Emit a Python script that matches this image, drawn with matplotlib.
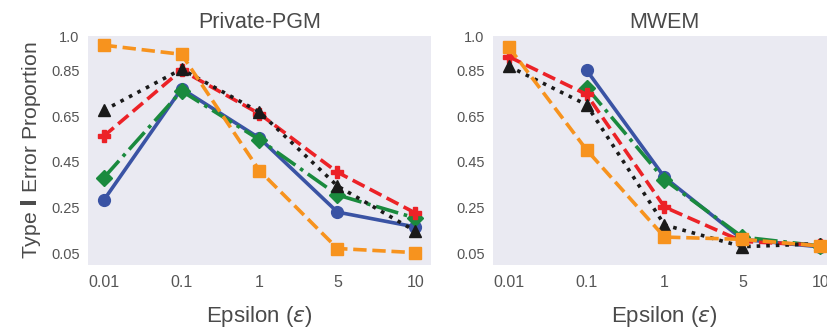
import numpy as np
import matplotlib
matplotlib.use("Agg")
import matplotlib.pyplot as plt

plt.rcParams['font.family'] = ['Liberation Sans', 'DejaVu Sans']
plt.rcParams['mathtext.fontset'] = 'dejavusans'

epsilons = ["0.01", "0.1", "1", "5", "10"]
yticks = [0.05, 0.25, 0.45, 0.65, 0.85, 1.0]
ytick_labels = ["0.05", "0.25", "0.45", "0.65", "0.85", "1.0"]

titles = ["Private-PGM", "MWEM"]

# Private-PGM results
pgm_blue = [0.282, 0.770, 0.554, 0.231, 0.166]
pgm_green = [0.380, 0.760, 0.547, 0.306, 0.205]
pgm_red = [0.562, 0.851, 0.660, 0.405, 0.227]
pgm_black = [0.675, 0.855, 0.668, 0.345, 0.148]
pgm_orange = [0.960, 0.920, 0.412, 0.072, 0.054]

# MWEM results (blue and green have no value at 0.01)
mwem_blue = [np.nan, 0.851, 0.383, 0.112, 0.079]
mwem_green = [np.nan, 0.775, 0.372, 0.122, 0.083]
mwem_red = [0.910, 0.745, 0.253, 0.103, 0.086]
mwem_black = [0.868, 0.700, 0.175, 0.080, 0.093]
mwem_orange = [0.953, 0.503, 0.122, 0.112, 0.083]

styles = [
    dict(color="#3A53A4", ls="-", marker="o"),
    dict(color="#1A8A3E", ls="-.", marker="D"),
    dict(color="#EC2227", ls="--", marker="P"),
    dict(color="#1A1A1A", ls=":", marker="^"),
    dict(color="#F7931E", ls="--", marker="s"),
]
panels = [
    [pgm_blue, pgm_green, pgm_red, pgm_black, pgm_orange],
    [mwem_blue, mwem_green, mwem_red, mwem_black, mwem_orange],
]

W, H = 828, 333
fig = plt.figure(figsize=(W / 100, H / 100), dpi=100)
bottom, top = 265, 36
lefts = [88, 493]
width = 343
text_color = "#4A4A4A"
tick_color = "#555555"

x = np.arange(len(epsilons))
for k, left in enumerate(lefts):
    ax = fig.add_axes([left / W, (H - bottom) / H, width / W, (bottom - top) / H])
    ax.set_facecolor("#EAEAF2")
    for s in ax.spines.values():
        s.set_visible(False)
    for series, st in zip(panels[k], styles):
        ax.plot(x, series, color=st["color"], ls=st["ls"], marker=st["marker"],
                lw=2.6, ms=8.5, clip_on=False)
    ax.set_xlim(-0.2, 4.2)
    ax.set_ylim(0, 1.0)
    ax.set_xticks(x)
    ax.set_xticklabels(epsilons)
    ax.set_yticks(yticks)
    ax.set_yticklabels(ytick_labels)
    ax.tick_params(axis="x", length=0, pad=7, labelsize=11.5, labelcolor=tick_color)
    ax.tick_params(axis="y", length=0, pad=6, labelsize=10.5, labelcolor=tick_color)
    ax.set_title(titles[k], fontsize=15.5, color=text_color, pad=6)
    ax.set_xlabel(r"Epsilon ($\epsilon$)", fontsize=16, color=text_color, labelpad=10)
    if k == 0:
        ax.set_ylabel(r"Type $\mathbf{I}$ Error Proportion", fontsize=15.2,
                      color=text_color, labelpad=6)

fig.savefig("out.png", dpi=100)
